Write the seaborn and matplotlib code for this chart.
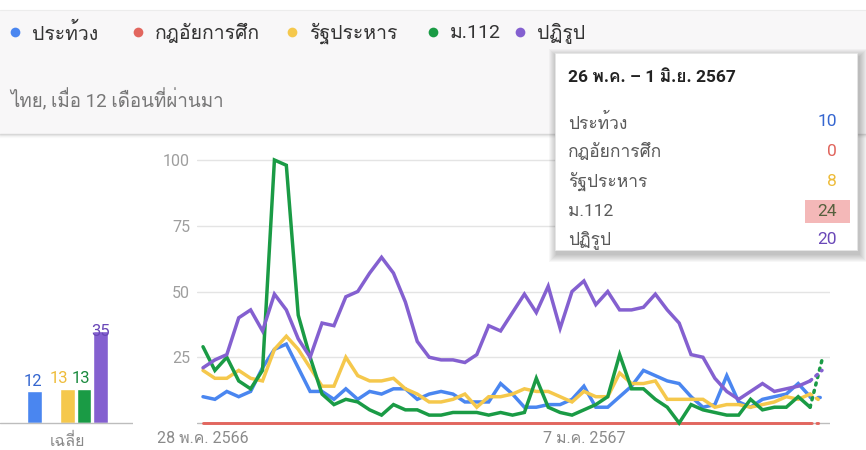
import numpy as np
import pandas as pd
import matplotlib
matplotlib.use("Agg")
import matplotlib.pyplot as plt
import seaborn as sns
from matplotlib import font_manager
from matplotlib.ft2font import FT2Font
from matplotlib.patches import Rectangle

# ข้อมูล Google Trends รายสัปดาห์ (28 พ.ค. 2566 – 26 พ.ค. 2567)
terms = ["ประท้วง", "กฎอัยการศึก", "รัฐประหาร", "ม.112", "ปฏิรูป"]
colors = ["#4a86f0", "#e2665e", "#f5c84c", "#1a9b45", "#8460d0"]
label_colors = ["#3566d0", "#e0645c", "#eebc3a", "#1a8a3e", "#6a48b8"]

protest = [10, 9, 12, 10, 12, 21, 28, 30, 21, 12, 12, 9, 13, 9, 12, 11, 13, 13, 9, 11,
           12, 11, 8, 8, 8, 15, 11, 6, 6, 7, 7, 9, 14, 6, 6, 10, 14, 20, 18, 16,
           15, 10, 6, 7, 18, 8, 6, 9, 10, 11, 15, 10, 10]
martial_law = [0] * 53
coup = [20, 17, 17, 20, 17, 16, 28, 33, 28, 21, 14, 14, 25, 18, 16, 16, 17, 13, 11, 8,
        8, 9, 11, 6, 10, 10, 11, 13, 12, 12, 10, 8, 12, 10, 10, 19, 15, 15, 16, 9,
        9, 9, 9, 6, 7, 7, 6, 7, 8, 10, 9, 11, 8]
m112 = [29, 20, 25, 16, 13, 20, 100, 98, 41, 25, 11, 7, 9, 8, 5, 3, 7, 5, 5, 3,
        3, 4, 4, 4, 3, 4, 3, 4, 17, 6, 4, 3, 5, 7, 10, 26, 13, 13, 9, 6,
        0, 7, 5, 4, 3, 3, 9, 5, 6, 6, 10, 6, 24]
reform = [21, 24, 26, 40, 43, 35, 49, 43, 32, 25, 38, 37, 48, 50, 57, 63, 57, 46, 31, 25,
          24, 24, 23, 26, 37, 35, 42, 49, 42, 52, 36, 50, 54, 45, 50, 43, 43, 44, 49, 43,
          38, 26, 25, 17, 12, 9, 12, 15, 12, 13, 14, 16, 20]
series = [protest, martial_law, coup, m112, reform]

averages = [12, 0, 13, 13, 35]
tick_pos = [0, 32]
tick_labels = ["28 พ.ค. 2566", "7 ม.ค. 2567"]
tooltip_title = "26 พ.ค. – 1 มิ.ย. 2567"
tooltip_values = [10, 0, 8, 24, 20]
subtitle = "ไทย, เมื่อ 12 เดือนที่ผ่านมา"


def thai_family():
    # หาฟอนต์ที่มีอักษรไทย
    for f in font_manager.fontManager.ttflist:
        try:
            cmap = FT2Font(f.fname).get_charmap()
            if 0x0E01 in cmap and 0x0E49 in cmap:
                return f.name
        except Exception:
            continue
    return None


sns.set_theme(style="white")
fams = ["Roboto"]
th = thai_family()
if th:
    fams.append(th)
fams.append("DejaVu Sans")
plt.rcParams["font.family"] = fams

W, H = 866, 450
fig = plt.figure(figsize=(W / 100, H / 100), dpi=100)
fig.patch.set_facecolor("white")


def px_axes(left, top, right, bottom, **kw):
    return fig.add_axes([left / W, 1 - bottom / H, (right - left) / W, (bottom - top) / H], **kw)


# พื้นหลังส่วนหัว
bg = px_axes(0, 0, W, H, zorder=0)
bg.set_xlim(0, W)
bg.set_ylim(H, 0)
bg.axis("off")
bg.add_patch(Rectangle((0, 10), W, 124, facecolor="#f8f7f8", edgecolor="none"))
bg.plot([0, W], [10, 10], color="#ececec", lw=0.8)
for k, a in enumerate([0.35, 0.18, 0.08, 0.04]):
    bg.plot([0, W], [134 + k, 134 + k], color="#9a9a9a", alpha=a, lw=1)

legend_dot_x = [15, 138, 292, 433, 520]
for t, c, x0 in zip(terms, colors, legend_dot_x):
    bg.plot(x0, 32, "o", color=c, ms=7, mec="none")
    bg.text(x0 + 17, 33, t, fontsize=14, color="#333333", va="center", ha="left")
bg.text(10, 100, subtitle, fontsize=13.5, color="#777777", va="center", ha="left")

# ---- กราฟเส้นหลัก ----
y0, y1 = -7 / 2.63, 273 / 2.63
ax = px_axes(197, 150, 830, 430, zorder=2)
ax.set_facecolor("none")
weeks = np.arange(len(protest))
for t, c, vals in zip(terms, colors, series):
    df = pd.DataFrame({"week": weeks, "value": vals})
    lw = 2.1 if t == "กฎอัยการศึก" else 2.5
    sns.lineplot(data=df.iloc[:-1], x="week", y="value", color=c, lw=lw, ax=ax,
                 solid_joinstyle="miter", zorder=3)
    sns.lineplot(data=df.iloc[-2:], x="week", y="value", color=c, lw=lw, ax=ax,
                 linestyle=(0, (0.6, 1.6)), dash_capstyle="round", zorder=3)

ax.set_xlim(-6 / 11.904, 52 + 8 / 11.904)
ax.set_ylim(y0, y1)
for g in [25, 50, 75, 100]:
    ax.axhline(g, color="#e4e4e4", lw=1, zorder=1)
ax.axhline(0, color="#bdbdbd", lw=1, zorder=1)
ax.set_yticks([25, 50, 75, 100])
ax.set_yticklabels(["25", "50", "75", "100"])
ax.set_xticks(tick_pos)
ax.set_xticklabels(tick_labels)
ax.tick_params(axis="y", length=0, pad=5, labelsize=11.5, labelcolor="#9e9e9e")
ax.tick_params(axis="x", length=0, pad=1, labelsize=11.5, labelcolor="#8a8a8a")
ax.set_xlabel("")
ax.set_ylabel("")
for s in ax.spines.values():
    s.set_visible(False)

# ---- แท่งค่าเฉลี่ย ----
axb = px_axes(0, 150, 133, 430, zorder=2)
axb.set_facecolor("none")
sns.barplot(x=list(range(5)), y=averages, hue=list(range(5)), palette=colors,
            legend=False, width=0.9, ax=axb, saturation=1)
axb.set_xlim(-2.09, 5.97)
axb.set_ylim(y0, y1)
axb.axhline(0, color="#bdbdbd", lw=1)
label_dx = [-1, 0, -6, -2, 0]
label_dy = [2, 0, 2, 2, -6]
for i, (v, lc) in enumerate(zip(averages, label_colors)):
    if v > 0:
        axb.annotate(str(v), (i, v), xytext=(label_dx[i], label_dy[i]), textcoords="offset points",
                     ha="center", va="bottom", fontsize=12, color=lc)
axb.set_yticks([])
axb.set_xticks([2])
axb.set_xticklabels(["เฉลี่ย"])
axb.tick_params(axis="x", length=0, pad=2, labelsize=11.5, labelcolor="#8a8a8a")
for s in axb.spines.values():
    s.set_visible(False)

# ---- tooltip ----
ov = px_axes(0, 0, W, H, zorder=10)
ov.set_xlim(0, W)
ov.set_ylim(H, 0)
ov.axis("off")
bx0, by0, bx1, by1 = 555, 53, 857, 250
for k in range(8, 0, -1):
    ov.add_patch(Rectangle((bx0 - k + 2, by0 - k + 4), bx1 - bx0 + 2 * k, by1 - by0 + 2 * k,
                           facecolor="#000000", alpha=0.03, edgecolor="none"))
ov.add_patch(Rectangle((bx0, by0), bx1 - bx0, by1 - by0, facecolor="white",
                       edgecolor="#e6e6e6", lw=0.6))
ov.text(568, 78, tooltip_title, fontsize=12.5, fontweight="bold", color="#222222",
        va="center", ha="left")
row_y = [122, 151, 181, 211, 240]
ov.add_patch(Rectangle((805, 200), 45, 23, facecolor="#f4b8b8", edgecolor="none"))
for t, v, c, ry in zip(terms, tooltip_values, label_colors, row_y):
    ov.text(568, ry, t, fontsize=12.5, color="#5a5a5a", va="center", ha="left")
    vc = "#56603e" if t == "ม.112" else c
    ov.text(837, ry, str(v), fontsize=12.5, color=vc, va="center", ha="right")

fig.savefig("out.png", dpi=100, facecolor="white")
